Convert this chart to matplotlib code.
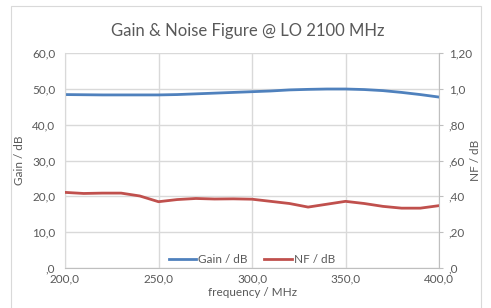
import matplotlib
matplotlib.use("Agg")
import matplotlib.pyplot as plt
from matplotlib.patches import Rectangle

# data
freq = [200, 210, 220, 230, 240, 250, 260, 270, 280, 290, 300,
        310, 320, 330, 340, 350, 360, 370, 380, 390, 400]
gain = [48.4, 48.35, 48.3, 48.3, 48.3, 48.3, 48.4, 48.6, 48.8, 49.0, 49.2,
        49.4, 49.7, 49.85, 49.95, 49.95, 49.8, 49.5, 49.0, 48.4, 47.7]
nf = [0.422, 0.416, 0.418, 0.418, 0.402, 0.370, 0.382, 0.388, 0.385, 0.386, 0.384,
      0.372, 0.360, 0.340, 0.356, 0.372, 0.360, 0.344, 0.334, 0.334, 0.348]

x_ticks = [200, 250, 300, 350, 400]
x_labels = ["200,0", "250,0", "300,0", "350,0", "400,0"]
gain_ticks = [0, 10, 20, 30, 40, 50, 60]
gain_labels = [",0", "10,0", "20,0", "30,0", "40,0", "50,0", "60,0"]
nf_ticks = [0, 0.2, 0.4, 0.6, 0.8, 1.0, 1.2]
nf_labels = [",0", ",20", ",40", ",60", ",80", "1,0", "1,20"]

txt = "#595959"
grid_c = "#D9D9D9"
blue = "#4F81BD"
red = "#C0504D"
fs = 8.5

plt.rcParams["font.family"] = ["Lato", "DejaVu Sans"]

fig = plt.figure(figsize=(4.91, 3.08), dpi=100)
fig.patches.append(Rectangle((11 / 491, -0.05), 470 / 491, 1.0 - 6 / 308 + 0.05,
                             transform=fig.transFigure, fill=False,
                             edgecolor=grid_c, lw=0.8))

ax = fig.add_axes([65 / 491, 40 / 308, 374 / 491, 215 / 308])
ax2 = ax.twinx()

l1, = ax.plot(freq, gain, color=blue, lw=2, label="Gain / dB")
l2, = ax2.plot(freq, nf, color=red, lw=2, label="NF / dB")

ax.set_xlim(200, 400)
ax.set_ylim(0, 60)
ax2.set_ylim(0, 1.2)

ax.set_xticks(x_ticks)
ax.set_xticklabels(x_labels)
ax.set_yticks(gain_ticks)
ax.set_yticklabels(gain_labels)
ax2.set_yticks(nf_ticks)
ax2.set_yticklabels(nf_labels)

ax.grid(True, color=grid_c, lw=1)
ax.set_axisbelow(True)

for a in (ax, ax2):
    for s in a.spines.values():
        s.set_visible(False)
ax.spines["left"].set_visible(True)
ax.spines["left"].set_color(grid_c)
ax.spines["bottom"].set_visible(True)
ax.spines["bottom"].set_color("#BFBFBF")
ax2.spines["right"].set_visible(True)
ax2.spines["right"].set_color("#BFBFBF")

ax.tick_params(axis="y", length=0, pad=7, labelsize=fs, labelcolor=txt)
ax.tick_params(axis="x", length=0, pad=4, labelsize=fs, labelcolor=txt)
ax2.tick_params(axis="y", length=3, width=0.8, color="#BFBFBF", pad=4,
                labelsize=fs, labelcolor=txt)

ax.set_xlabel("frequency / MHz", fontsize=fs, color=txt, labelpad=2)
ax.set_ylabel("Gain / dB", fontsize=fs, color=txt, labelpad=5)
ax2.set_ylabel("NF / dB", fontsize=fs, color=txt, labelpad=-1)

fig.text(248 / 491, 1 - 31 / 308, "Gain & Noise Figure @ LO 2100 MHz",
         ha="center", va="center", fontsize=12, color=txt)

ax2.legend([l1, l2], ["Gain / dB", "NF / dB"], loc="center",
           bbox_to_anchor=(0.5, 0.04), frameon=False, ncol=2,
           fontsize=fs, labelcolor=txt, handlelength=2.3,
           handletextpad=0.2, columnspacing=1.4)

fig.savefig("out.png", dpi=100)
